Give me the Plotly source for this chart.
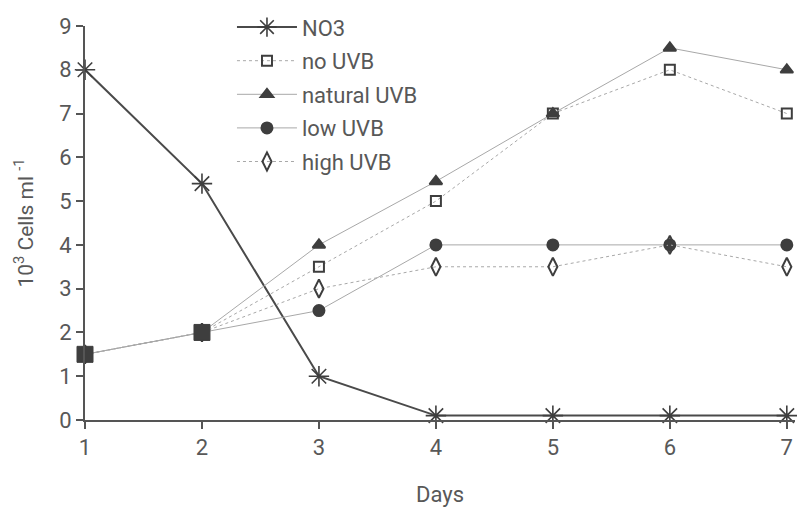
import plotly.graph_objects as go

days = [1, 2, 3, 4, 5, 6, 7]
no3 = [8, 5.4, 1, 0.1, 0.1, 0.1, 0.1]
no_uvb = [1.5, 2, 3.5, 5, 7, 8, 7]
natural_uvb = [1.5, 2, 4, 5.45, 7, 8.5, 8]
low_uvb = [1.5, 2, 2.5, 4, 4, 4, 4]
high_uvb = [1.5, 2, 3, 3.5, 3.5, 4, 3.5]
shared_days = days[:2]
shared_start = no_uvb[:2]
y_ticks = [0, 1, 2, 3, 4, 5, 6, 7, 8, 9]

FONT = "Roboto, Liberation Sans, sans-serif"
DARK = "#3e3e3e"
LIGHT = "#a8a8a8"
TXT = "#585858"

fig = go.Figure()

def series(name, y, sym, size, dash, group):
    fig.add_trace(go.Scatter(
        x=days, y=y, name=name, mode="lines+markers", cliponaxis=False,
        legendgroup=group,
        line=dict(color=LIGHT, width=1, dash=dash),
        marker=dict(symbol=sym, size=size, color=DARK,
                    line=dict(color=DARK, width=2)),
    ))

fig.add_trace(go.Scatter(
    x=days, y=no3, name="NO3", mode="lines+markers", cliponaxis=False,
    legendgroup="a",
    line=dict(color="#4a4a4a", width=2),
    marker=dict(symbol="asterisk-open", size=17, color=DARK,
                line=dict(color=DARK, width=1.6)),
))
series("no UVB", no_uvb, "square-open", 10, "dot", "b")
series("natural UVB", natural_uvb, "triangle-up", 11, "solid", "c")
series("low UVB", low_uvb, "circle", 11, "solid", "d")
series("high UVB", high_uvb, "diamond-tall-open", 13, "dot", "e")
fig.add_trace(go.Scatter(
    x=shared_days, y=shared_start, mode="markers", cliponaxis=False,
    showlegend=False, hoverinfo="skip",
    marker=dict(symbol="square", size=16, color=DARK,
                line=dict(width=1, color=DARK)),
))

fig.update_layout(
    width=798, height=507,
    margin=dict(l=85, r=3, t=26, b=87),
    paper_bgcolor="white", plot_bgcolor="white",
    font=dict(family=FONT, color=TXT, size=22),
    showlegend=True,
    legend=dict(x=0.207, y=1.05, xanchor="left", yanchor="top",
                bgcolor="rgba(0,0,0,0)", font=dict(size=22, color=TXT),
                tracegroupgap=2, itemwidth=60),
    xaxis=dict(range=[1, 7.07], tickvals=days, showgrid=False, zeroline=False,
               showline=True, linecolor="#555555", linewidth=2,
               ticks="outside", ticklen=7, tickcolor="#555555", tickwidth=2,
               tickfont=dict(size=22),
               title=dict(text="Days", font=dict(size=22), standoff=29)),
    yaxis=dict(range=[0, 9], tickvals=y_ticks, showgrid=False, zeroline=False,
               showline=True, linecolor="#555555", linewidth=2,
               ticks="outside", ticklen=7, tickcolor="#555555", tickwidth=2,
               tickfont=dict(size=22),
               title=dict(text="10<sup>3</sup> Cells ml <sup>-1</sup>",
                          font=dict(size=21), standoff=20)),
)

fig.write_html("out.html")
